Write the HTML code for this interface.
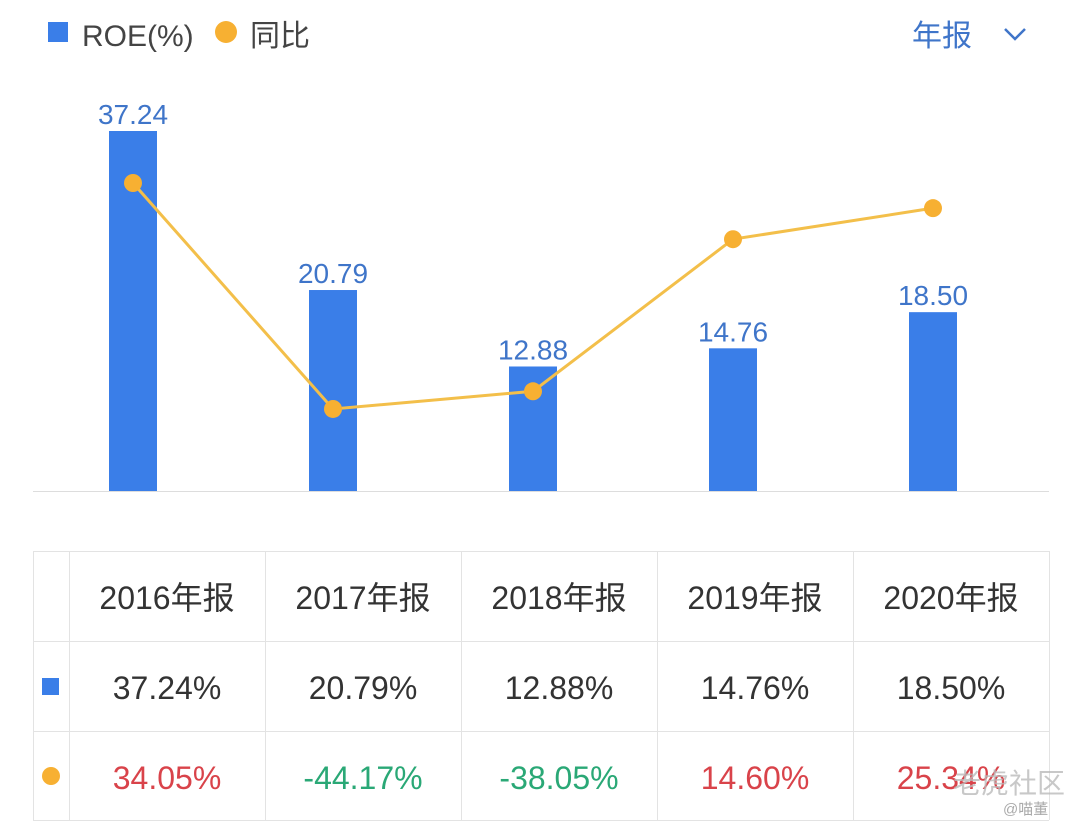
<!DOCTYPE html>
<html><head><meta charset="utf-8">
<style>
body{margin:0;width:1080px;height:821px;background:#fff;overflow:hidden;font-family:"Liberation Sans","Noto Sans CJK SC",sans-serif;}
svg text{font-family:"Liberation Sans","Noto Sans CJK SC",sans-serif;}
</style></head>
<body>
<svg id="chart" width="1080" height="821">
<g>
<rect x="48" y="22" width="20" height="20" fill="#3a7ee8"/>
<text x="82" y="46" font-size="30" fill="#444">ROE(%)</text>
<circle cx="226" cy="32" r="11" fill="#f7b032"/>
<text x="250" y="46" font-size="30" fill="#444">同比</text>
</g>
<g>
<text x="912" y="46" font-size="30" fill="#3f75c9">年报</text>
<path d="M1005 29 L1015 39 L1025 29" stroke="#3f75c9" stroke-width="2.5" fill="none"/>
</g>
<line x1="33" y1="491.5" x2="1049" y2="491.5" stroke="#ddd" stroke-width="1"/>
<g id="bars"></g>
<g id="line"></g>
<g id="table"></g>
<text x="953" y="793" font-size="28" fill="#bbb" opacity="0.8">老虎社区</text>
<text x="1003" y="814" font-size="15" fill="#aaa">@喵董</text>
</svg>
<script>
const categories=["2016年报","2017年报","2018年报","2019年报","2020年报"];
const roeValues=[37.24,20.79,12.88,14.76,18.50];
const yoyValues=[34.05,-44.17,-38.05,14.60,25.34];
const NS="http://www.w3.org/2000/svg";
function mk(tag,attrs,parent){const e=document.createElementNS(NS,tag);for(const k in attrs)e.setAttribute(k,attrs[k]);parent.appendChild(e);return e;}
const xC=i=>133+i*200;
const yBar=v=>491-v*9.667;
const yLine=v=>183+(34.05-v)*2.889;
const bars=document.getElementById('bars');
roeValues.forEach((v,i)=>{
  const r=mk('rect',{x:xC(i)-24,y:yBar(v),width:48,height:491-yBar(v),fill:'#3a7ee8'},bars);
  
  
  const t=mk('text',{x:xC(i),y:yBar(v)-7,'text-anchor':'middle','font-size':28,fill:'#3f75c9'},bars);
  t.textContent=v.toFixed(2);
  
  
});
const line=document.getElementById('line');
const p=mk('polyline',{points:yoyValues.map((v,i)=>xC(i)+','+yLine(v)).join(' '),fill:'none',stroke:'#f3bf4a','stroke-width':3},line);


yoyValues.forEach((v,i)=>{
  const c=mk('circle',{cx:xC(i),cy:yLine(v),r:9,fill:'#f7b032'},line);
  
  
});
const tb=document.getElementById('table');
const cols=[33,69,265,461,657,853,1049],rows=[551,641,731,820];
rows.forEach(y=>{const l=mk('line',{x1:33,x2:1049,y1:y+0.5,y2:y+0.5,stroke:'#e3e3e3'},tb);});
cols.forEach(x=>{const l=mk('line',{x1:x+0.5,x2:x+0.5,y1:551,y2:820,stroke:'#e3e3e3'},tb);});
const sq=mk('rect',{x:42,y:678,width:17,height:17,fill:'#3a7ee8'},tb);

const ci=mk('circle',{cx:51,cy:776,r:9,fill:'#f7b032'},tb);

categories.forEach((c,i)=>{
  const cx=(cols[i+1]+cols[i+2])/2;
  const h=mk('text',{x:cx,y:609,'text-anchor':'middle','font-size':32,fill:'#333'},tb);
  h.textContent=c;
  const r=mk('text',{x:cx,y:699,'text-anchor':'middle','font-size':32,fill:'#333'},tb);
  r.textContent=roeValues[i].toFixed(2)+'%';
  const y=mk('text',{x:cx,y:789,'text-anchor':'middle','font-size':32,fill:yoyValues[i]<0?'#2aa876':'#d9434a'},tb);
  y.textContent=yoyValues[i].toFixed(2)+'%';
});
</script>
</body></html>
